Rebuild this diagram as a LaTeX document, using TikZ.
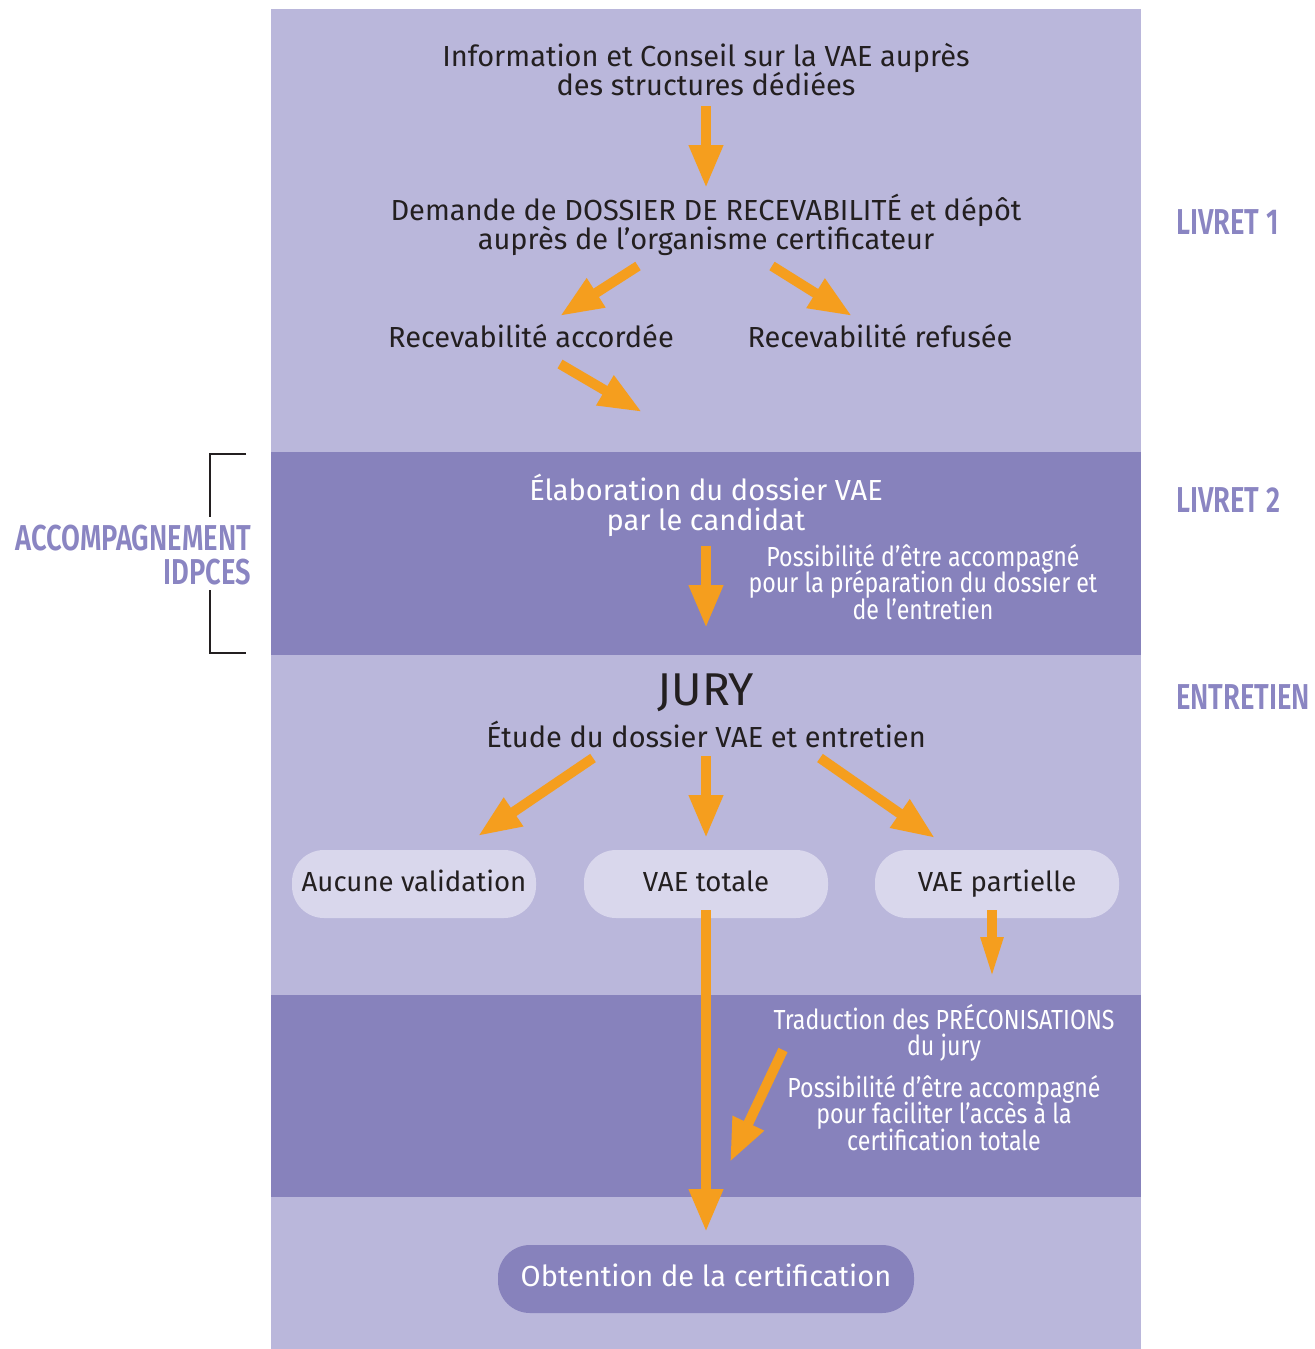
\documentclass[tikz,border=0pt]{standalone}
\usepackage{fontspec}
\setmainfont{Fira Sans}
\newfontfamily\condfont[FakeStretch=0.84]{Fira Sans}
\newfontfamily\labelfont[FakeStretch=0.76]{Fira Sans SemiBold}
\usetikzlibrary{arrows.meta,positioning}

\definecolor{bandlight}{HTML}{BAB7DB}
\definecolor{banddark}{HTML}{8782BC}
\definecolor{pillfill}{HTML}{D9D7EC}
\definecolor{vaeorange}{HTML}{F59E1E}
\definecolor{labelpurple}{HTML}{8A85C2}
\definecolor{inkdark}{HTML}{231F20}

\tikzset{
  flow/.style={draw=vaeorange, line width=5pt, -{Triangle[length=21.5pt,width=16pt]}},
  flownarrow/.style={flow, -{Triangle[length=21.5pt,width=10pt]}},
  steptext/.style={align=center, text=inkdark, font=\fontsize{14.5}{14.5}\selectfont},
  bandtext/.style={align=center, text=white, font=\fontsize{14.5}{15}\selectfont},
  notetext/.style={align=center, text=white, font=\condfont\fontsize{13.8}{13.3}\selectfont},
  pill/.style={fill=pillfill, rounded corners=16pt, minimum width=122pt, minimum height=34pt, text height=10.5pt, text depth=3pt, text=inkdark, font=\fontsize{13.8}{15}\selectfont},
  sidelabel/.style={text=labelpurple, font=\labelfont\fontsize{18}{18}\selectfont},
}

\begin{document}
\setlength{\lineskiplimit}{-5pt}
\begin{tikzpicture}[x=0.5pt,y=0.5pt,yscale=-1]
\useasboundingbox (0,0) rectangle (1315,1349);

%bands
\fill[bandlight] (271,9) rectangle (1141,1349);
\fill[banddark] (271,452) rectangle (1141,655);
\fill[banddark] (271,995) rectangle (1141,1197);

%bracket
\draw[line width=1.3pt, inkdark] (246,454) -- (210,454) -- (210,517);
\draw[line width=1.3pt, inkdark] (210,590) -- (210,653) -- (246,653);

% Text Node
\node[steptext] (info) at (706,70) {Information et Conseil sur la VAE auprès\\des structures dédiées};
\node[steptext] (dossier) at (706,225) {Demande de DOSSIER DE RECEVABILITÉ et dépôt\\auprès de l’organisme certificateur};
\node[steptext] (accordee) at (531,336) {Recevabilité accordée};
\node[steptext] (refusee) at (880,336) {Recevabilité refusée};
\node[bandtext] (elaboration) at (706,505) {Élaboration du dossier VAE\\par le candidat};
\node[notetext] (possprep) at (923,582) {Possibilité d’être accompagné\\pour la préparation du dossier et\\de l’entretien};
\node[text=inkdark, font=\fontsize{23}{23}\selectfont] (jury) at (706,693) {JURY};
\node[steptext] (etude) at (706,734) {Étude du dossier VAE et entretien};

% pills
\node[pill] (aucune) at (414,884) {Aucune validation};
\node[pill] (totale) at (706,884) {VAE totale};
\node[pill] (partielle) at (997,884) {VAE partielle};
\node[pill, fill=banddark, text=white, minimum width=208pt, font=\fontsize{14.5}{15}\selectfont] (obtention) at (706,1279) {Obtention de la certification};

\node[notetext] (traduction) at (944,1033) {Traduction des PRÉCONISATIONS\\du jury};
\node[notetext] (possacces) at (944,1113) {Possibilité d’être accompagné\\pour faciliter l’accès à la\\certification totale};

% side labels
\node[sidelabel, anchor=west] (livreta) at (1169,222) {LIVRET 1};
\node[sidelabel, anchor=west] (livretb) at (1169,500) {LIVRET 2};
\node[sidelabel, anchor=west] (entretien) at (1169,697) {ENTRETIEN};
\node[sidelabel, anchor=east] (accomp) at (258,538) {ACCOMPAGNEMENT};
\node[sidelabel, anchor=east] (idpces) at (258,572) {IDPCES};

%arrow ends
\coordinate (infoout) at (706,106);
\coordinate (dossierin) at (706,188);
\coordinate (accout) at (638,266);
\coordinate (accin) at (560,316);
\coordinate (refout) at (772,266);
\coordinate (refin) at (852,316);
\coordinate (elabout) at (560,364);
\coordinate (elabin) at (642,412);
\coordinate (candout) at (706,546);
\coordinate (juryin) at (706,628);
\coordinate (aucout) at (593,758);
\coordinate (aucin) at (478,836);
\coordinate (totout) at (706,756);
\coordinate (totin) at (706,838);
\coordinate (partout) at (820,758);
\coordinate (partin) at (935,838);
\coordinate (certout) at (706,910);
\coordinate (certin) at (706,1232);
\coordinate (tradout) at (992,910);
\coordinate (tradin) at (992,980);
\coordinate (accesout) at (783,1050);
\coordinate (accesin) at (730,1162);

\draw[flow] (infoout) -- (dossierin);
\draw[flow] (accout) -- (accin);
\draw[flow] (refout) -- (refin);
\draw[flow] (elabout) -- (elabin);
\draw[flow] (candout) -- (juryin);
\draw[flow] (aucout) -- (aucin);
\draw[flow] (totout) -- (totin);
\draw[flow] (partout) -- (partin);
\draw[flow] (certout) -- (certin);
\draw[flownarrow] (tradout) -- (tradin);
\draw[flow] (accesout) -- (accesin);

\end{tikzpicture}
\end{document}
